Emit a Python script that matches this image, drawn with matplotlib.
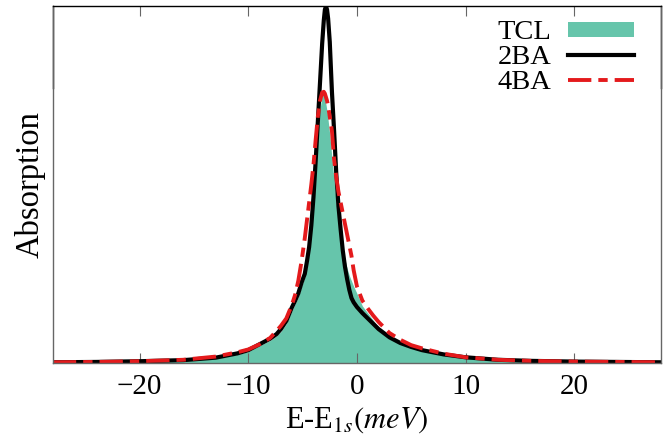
import matplotlib
matplotlib.use("Agg")
import matplotlib.pyplot as plt

plt.rcParams['font.family'] = ['Liberation Serif', 'DejaVu Serif']
plt.rcParams['mathtext.fontset'] = 'stix'

# energy grid (meV) and absorption values
energy = [-28, -24, -20, -16, -13, -11, -10, -9, -8, -7.4,
          -7, -6.5, -6, -5.7, -5.4, -5.1, -4.8, -4.6, -4.4, -4.2,
          -4.0, -3.8, -3.6, -3.4, -3.2, -3.05, -2.95, -2.85, -2.75, -2.65,
          -2.5, -2.3, -2.1, -1.9, -1.7, -1.5, -1.3, -1.1, -0.9, -0.7,
          -0.5, -0.3, 0, 0.5, 1.0, 1.5, 2.0, 3.0, 4.0, 5.0,
          6.0, 8.0, 10, 13, 16, 20, 24, 28]

tcl = [0.0015, 0.0025, 0.004, 0.007, 0.013, 0.024, 0.032, 0.048, 0.063, 0.076,
       0.088, 0.11, 0.145, 0.165, 0.185, 0.215, 0.24, 0.27, 0.31, 0.37,
       0.45, 0.55, 0.64, 0.71, 0.755, 0.75, 0.74, 0.725, 0.705, 0.68,
       0.64, 0.575, 0.51, 0.445, 0.40, 0.36, 0.32, 0.29, 0.265, 0.245,
       0.23, 0.215, 0.195, 0.16, 0.14, 0.12, 0.10, 0.074, 0.056, 0.044,
       0.035, 0.023, 0.015, 0.008, 0.005, 0.003, 0.002, 0.0015]

ba2 = [0.002, 0.003, 0.005, 0.008, 0.015, 0.027, 0.036, 0.052, 0.068, 0.081,
       0.095, 0.118, 0.155, 0.174, 0.195, 0.225, 0.25, 0.285, 0.325, 0.385,
       0.465, 0.565, 0.675, 0.785, 0.895, 0.96, 0.99, 1.0, 0.99, 0.965,
       0.90, 0.76, 0.65, 0.53, 0.44, 0.375, 0.315, 0.27, 0.235, 0.205,
       0.182, 0.17, 0.157, 0.14, 0.125, 0.11, 0.095, 0.072, 0.056, 0.045,
       0.036, 0.024, 0.016, 0.009, 0.006, 0.004, 0.003, 0.002]

ba4 = [0.002, 0.003, 0.005, 0.009, 0.018, 0.03, 0.038, 0.052, 0.07, 0.09,
       0.104, 0.125, 0.162, 0.19, 0.23, 0.285, 0.35, 0.40, 0.45, 0.50,
       0.555, 0.625, 0.69, 0.735, 0.758, 0.76, 0.755, 0.745, 0.735, 0.72,
       0.69, 0.65, 0.57, 0.52, 0.48, 0.45, 0.42, 0.39, 0.36, 0.33,
       0.30, 0.26, 0.215, 0.175, 0.153, 0.133, 0.115, 0.084, 0.065, 0.05,
       0.041, 0.026, 0.016, 0.009, 0.006, 0.004, 0.003, 0.002]

fig = plt.figure(figsize=(6.69, 4.40), dpi=100)
ax = fig.add_axes([0.079, 0.175, 0.909, 0.811])

ax.fill_between(energy, tcl, 0, color='#66c5ab', linewidth=0, label='TCL')
ax.plot(energy, ba2, color='black', linewidth=3.0, label='2BA')
ax.plot(energy, ba4, color='#e41a1c', linewidth=2.8, dashes=(6.0, 1.8, 2.4, 1.8), label='4BA')

ax.set_xlim(-28, 28)
ax.set_ylim(0, 1.0)
ax.set_xticks([-20, -10, 0, 10, 20])
ax.set_yticks([])
ax.tick_params(axis='x', direction='in', length=7, width=0.8, color='#666666',
               labelsize=21, top=True, pad=8)

for side in ['left', 'bottom', 'right']:
    ax.spines[side].set_color('#666666')
ax.spines['top'].set_color('black')
for s in ax.spines.values():
    s.set_linewidth(1.0)
# upper parts of the side borders are drawn black in the original
ax.plot([0, 0], [0.772, 1], color='black', lw=1.0, transform=ax.transAxes, clip_on=False)
ax.plot([1, 1], [0.772, 1], color='black', lw=1.0, transform=ax.transAxes, clip_on=False)

ax.set_xlabel(r'E-E$_{1s}(meV)$', fontsize=22, labelpad=4)
ax.set_ylabel('Absorption', fontsize=23.5, labelpad=5)

ax.legend(loc='upper right', frameon=False, markerfirst=False, fontsize=20.5,
          handlelength=2.34, handleheight=0.46, handletextpad=0.56, labelspacing=0.0,
          borderpad=0, borderaxespad=0, bbox_to_anchor=(0.956, 0.96))

fig.savefig('out.png', dpi=100)
